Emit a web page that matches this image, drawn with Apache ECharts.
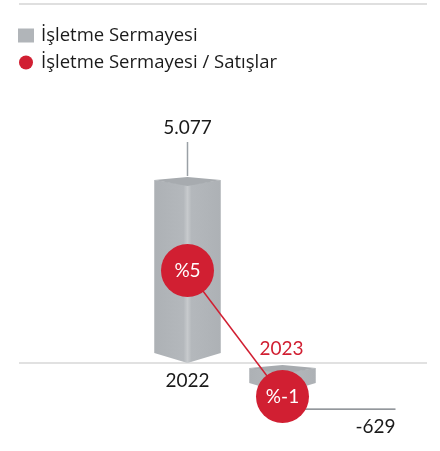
<!DOCTYPE html>
<html>
<head>
<meta charset="utf-8">
<style>
  html, body { margin: 0; padding: 0; background: #ffffff; }
  #chart { width: 440px; height: 451px; }
</style>
<script src="https://cdn.jsdelivr.net/npm/echarts@6/dist/echarts.min.js"></script>
</head>
<body>
<div id="chart"></div>
<script>
// Working capital (TL, thousands) and its ratio to sales (%)
const categories = ['2022', '2023'];
const workingCapital = [5077, -629];
const ratioToSales = [5, -1];
const seriesNames = ['İşletme Sermayesi', 'İşletme Sermayesi / Satışlar'];

const FONT = 'Lato, "Noto Sans", sans-serif';
const LEGEND_FONT = '"Open Sans", Lato, sans-serif';
const GREY = '#b1b5b9';
const RED = '#d11f32';

function formatTR(v) {
  const s = String(Math.abs(v)).replace(/\B(?=(\d{3})+(?!\d))/g, '.');
  return (v < 0 ? '-' : '') + s;
}

const bodyFill = new echarts.graphic.LinearGradient(0, 0, 1, 0, [
  { offset: 0, color: '#adb1b5' },
  { offset: 0.44, color: '#b4b8bc' },
  { offset: 0.5, color: '#c7cacd' },
  { offset: 0.56, color: '#b4b8bc' },
  { offset: 1, color: '#adb1b5' }
]);

// Prism-shaped column with its value and year labels
function renderPrism(params, api) {
  const i = api.value(0);
  const v = api.value(1);
  const top = api.coord([i, v]);
  const zero = api.coord([i, 0]);
  const xc = top[0];
  const half = api.size([1, 0])[0] * 0.35;
  const x0 = xc - half, x1 = xc + half;
  let yTop, yBot;
  if (v >= 0) { yTop = top[1]; yBot = zero[1]; }
  else { yTop = zero[1] + 2; yBot = top[1] + 7; }

  const children = [];
  // body
  children.push({
    type: 'polygon',
    shape: { points: [[x0, yTop + 3], [xc, yTop + 8], [x1, yTop + 3], [x1, yBot - 10], [xc, yBot], [x0, yBot - 10]] },
    style: { fill: bodyFill }
  });
  // top face
  children.push({
    type: 'polygon',
    shape: { points: [[x0, yTop + 3], [xc, yTop], [x1, yTop + 3], [xc, yTop + 9]] },
    style: { fill: '#a7abaf' }
  });

  const isLast = params.dataIndex === categories.length - 1;
  if (v >= 0) {
    children.push({
      type: 'line',
      shape: { x1: xc, y1: yTop - 1, x2: xc, y2: yTop - 35 },
      style: { stroke: '#9aa0a6', lineWidth: 1.5 }
    });
    children.push({
      type: 'text',
      style: { text: formatTR(v), x: xc, y: yTop - 49, align: 'center', verticalAlign: 'middle',
               font: '19px ' + FONT, fill: '#1a1a1a' }
    });
    children.push({
      type: 'text',
      style: { text: categories[i], x: xc, y: zero[1] + 18, align: 'center', verticalAlign: 'middle',
               font: '19px ' + FONT, fill: isLast ? RED : '#1a1a1a' }
    });
  } else {
    children.push({
      type: 'line',
      shape: { x1: xc, y1: yBot + 16, x2: xc + 113, y2: yBot + 16 },
      style: { stroke: '#6f757b', lineWidth: 1.2 }
    });
    children.push({
      type: 'text',
      style: { text: formatTR(v), x: xc + 113, y: yBot + 34, align: 'right', verticalAlign: 'middle',
               font: '19px ' + FONT, fill: '#1a1a1a' }
    });
    children.push({
      type: 'text',
      style: { text: categories[i], x: xc - 1, y: zero[1] - 14, align: 'center', verticalAlign: 'middle',
               font: '19px ' + FONT, fill: isLast ? RED : '#1a1a1a' }
    });
  }
  return { type: 'group', children: children };
}

const chart = echarts.init(document.getElementById('chart'), null, { renderer: 'canvas' });

chart.setOption({
  animation: false,
  backgroundColor: '#ffffff',
  textStyle: { fontFamily: FONT },
  legend: {
    orient: 'vertical',
    left: 13,
    top: 21,
    itemWidth: 16,
    itemHeight: 14,
    itemGap: 8,
    selectedMode: false,
    textStyle: { fontSize: 18.5, color: '#1a1a1a', fontFamily: LEGEND_FONT, lineHeight: 18, padding: [0, 0, 0, 2] },
    data: [
      { name: seriesNames[0], icon: 'rect', itemStyle: { color: GREY } },
      { name: seriesNames[1], icon: 'circle', itemStyle: { color: RED } }
    ]
  },
  grid: { left: 140, width: 190, top: 100, height: 340 },
  xAxis: {
    type: 'category',
    data: categories,
    show: false
  },
  yAxis: [
    { type: 'value', min: -2102, max: 7179, show: false },
    { type: 'value', min: -3.071, max: 13.119, show: false }
  ],
  series: [
    {
      name: seriesNames[0],
      type: 'custom',
      yAxisIndex: 0,
      z: 2,
      itemStyle: { color: GREY },
      renderItem: renderPrism,
      data: categories.map((c, i) => [i, workingCapital[i]]),
      encode: { x: 0, y: 1 }
    },
    {
      name: seriesNames[1],
      type: 'line',
      yAxisIndex: 1,
      z: 5,
      symbol: 'circle',
      symbolSize: 53,
      lineStyle: { color: RED, width: 1.5 },
      itemStyle: { color: RED },
      label: {
        show: true,
        position: 'inside',
        formatter: p => '%' + p.value,
        color: '#ffffff',
        fontSize: 19,
        fontFamily: FONT
      },
      data: ratioToSales
    }
  ]
});

// Rules across the full width: top separator and the zero line
const zeroY = chart.convertToPixel({ yAxisIndex: 0 }, 0);
chart.setOption({
  graphic: [
    { type: 'line', z: 1, shape: { x1: 19, y1: 4, x2: 427, y2: 4 }, style: { stroke: '#d4d4d4', lineWidth: 1.5 } },
    { type: 'line', z: 1, shape: { x1: 19, y1: zeroY, x2: 427, y2: zeroY }, style: { stroke: '#c4c4c4', lineWidth: 1.2 } }
  ]
});
</script>
</body>
</html>
